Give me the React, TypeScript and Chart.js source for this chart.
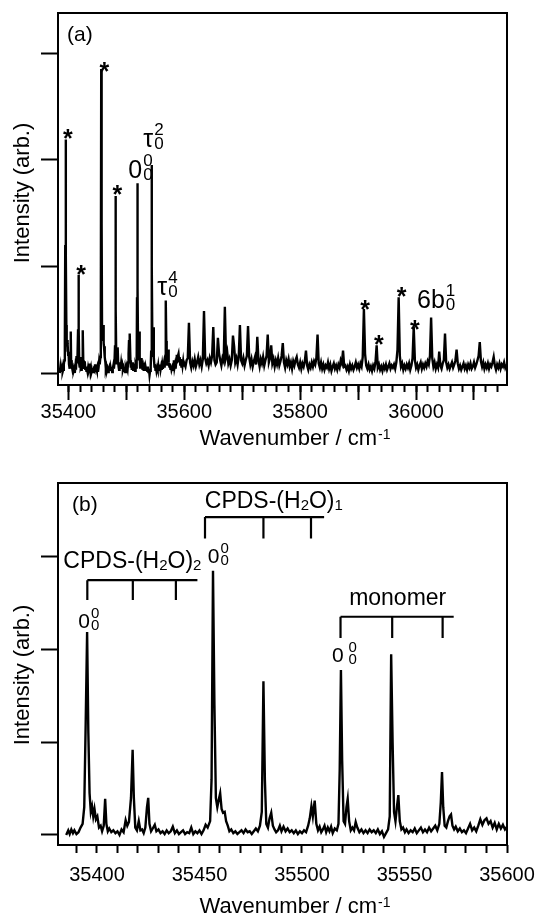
import React, { useEffect, useRef } from "react";
import { Chart, registerables } from "chart.js";

Chart.register(...registerables);

const FONT = "'Liberation Sans', Arial, Helvetica, sans-serif";

// ---------- DATA ----------
// High-resolution part of the spectrum (wavenumber cm-1, intensity arb.)
const fineSpectrum: [number, number][] = [
  [35385, 0.0], [35386, 0.05], [35386.7, 0.01], [35387.5, 0.06], [35388.3, 0.02], [35389, 0.05],
  [35390, 0.01], [35391, 0.03], [35392, 0.08], [35393, 0.12], [35393.8, 0.3], [35394.5, 1.2],
  [35395.2, 2.19], [35395.8, 1.1], [35396.4, 0.45], [35397, 0.25], [35397.6, 0.31], [35398.2, 0.2],
  [35398.8, 0.28], [35399.5, 0.17], [35400.2, 0.2], [35401, 0.08], [35401.8, 0.1], [35402.5, 0.04],
  [35403.3, 0.1], [35404, 0.39], [35404.6, 0.12], [35405.3, 0.04], [35406, 0.07], [35407, 0.03],
  [35408, 0.05], [35409, 0.02], [35410, 0.04], [35411, 0.0], [35412, 0.06], [35413, 0.03],
  [35414, 0.16], [35414.8, 0.1], [35415.6, 0.14], [35416.6, 0.4], [35417.4, 0.92], [35418, 0.4],
  [35418.7, 0.08], [35419.5, 0.05], [35420.4, 0.15], [35421.2, 0.05], [35422, 0.06], [35422.8, 0.02],
  [35423.6, 0.08], [35424.4, 0.3], [35425, 0.4], [35425.6, 0.12], [35426.4, 0.04], [35427.2, 0.07],
  [35428.2, 0.11], [35429, 0.04], [35430, 0.06], [35431, 0.02], [35432, 0.04], [35433, 0.01],
  [35434, 0.05], [35435, 0.02], [35436, 0.04], [35437, 0.09], [35438, 0.02], [35439, 0.05],
  [35440, 0.01], [35441, 0.03], [35442, 0.05], [35443, 0.01], [35444, 0.03], [35445, 0.02],
  [35446, 0.08], [35447, 0.01], [35448, 0.04], [35449, 0.02], [35450, 0.05], [35451, 0.01],
  [35452, 0.05], [35453, 0.11], [35454, 0.08], [35455.2, 0.15], [35455.9, 0.6], [35456.6, 2.85],
  [35457.3, 1.4], [35458, 0.4], [35458.7, 0.3], [35459.4, 0.38], [35460.1, 0.45], [35460.8, 0.28],
  [35461.5, 0.24], [35462.3, 0.25], [35463, 0.15], [35463.8, 0.1], [35464.6, 0.04], [35465.5, 0.06],
  [35466.5, 0.02], [35467.5, 0.04], [35468.5, 0.01], [35469.5, 0.03], [35470.5, 0.05], [35471.5, 0.02],
  [35472.5, 0.06], [35473.5, 0.03], [35474.5, 0.04], [35475.5, 0.01], [35476.5, 0.04], [35477.5, 0.07],
  [35478.5, 0.04], [35479.5, 0.1], [35480.4, 0.25], [35481.2, 1.66], [35481.9, 0.6], [35482.6, 0.12],
  [35483.4, 0.08], [35484.2, 0.18], [35485, 0.24], [35485.8, 0.1], [35486.6, 0.06], [35487.4, 0.03],
  [35488.3, 0.05], [35489.2, 0.1], [35490, 0.04], [35491, 0.09], [35492, 0.04], [35493, 0.07],
  [35494, 0.03], [35495, 0.05], [35496, 0.02], [35497, 0.05], [35498, 0.01], [35499, 0.04],
  [35500, 0.02], [35501, 0.05], [35502, 0.03], [35503, 0.1], [35503.8, 0.18], [35504.6, 0.31],
  [35505.3, 0.2], [35506.2, 0.37], [35507, 0.12], [35507.8, 0.05], [35508.6, 0.09], [35509.4, 0.03],
  [35510.2, 0.06], [35511, 0.1], [35511.8, 0.03], [35512.6, 0.08], [35513.4, 0.04], [35514.2, 0.09],
  [35515, 0.02], [35516, 0.07], [35517, 0.05], [35517.8, 0.12], [35518.4, 0.7], [35519, 1.78],
  [35519.6, 0.8], [35520.3, 0.15], [35521, 0.12], [35521.7, 0.3], [35522.3, 0.39], [35523, 0.15],
  [35523.8, 0.05], [35524.6, 0.08], [35525.4, 0.05], [35526.2, 0.14], [35527, 0.08], [35528, 0.03],
  [35529, 0.06], [35530, 0.02], [35531, 0.05], [35532, 0.02], [35533, 0.06], [35534, 0.03],
  [35535, 0.05], [35536, 0.02], [35537, 0.06], [35538, 0.01], [35539, 0.04], [35540, -0.02],
  [35541, 0.02], [35542, 0.06], [35542.8, 0.2], [35543.5, 1.95], [35544.2, 1.0], [35544.9, 0.25],
  [35545.6, 0.15], [35546.4, 0.32], [35547, 0.43], [35547.7, 0.15], [35548.5, 0.06], [35549.3, 0.08],
  [35550.2, 0.03], [35551, 0.06], [35552, 0.02], [35553, 0.05], [35554, 0.03], [35555, 0.07],
  [35556, 0.02], [35557, 0.05], [35558, 0.08], [35559, 0.03], [35560, 0.06], [35561, 0.03],
  [35562, 0.08], [35563, 0.04], [35564, 0.07], [35565, 0.1], [35566, 0.05], [35567, 0.12],
  [35567.7, 0.35], [35568.3, 0.68], [35568.9, 0.3], [35569.6, 0.1], [35570.4, 0.08], [35571.2, 0.15],
  [35572, 0.2], [35572.7, 0.22], [35573.4, 0.1], [35574.2, 0.06], [35575, 0.09], [35576, 0.04],
  [35577, 0.07], [35578, 0.03], [35579, 0.05], [35580, 0.02], [35581, 0.07], [35582, 0.12],
  [35583, 0.05], [35584, 0.08], [35585, 0.04], [35586, 0.1], [35587, 0.17], [35588, 0.11],
  [35589, 0.16], [35590, 0.18], [35591, 0.12], [35592, 0.15], [35593, 0.08], [35594, 0.13],
  [35595, 0.06], [35596, 0.12], [35597, 0.07], [35598, 0.11], [35599, 0.06], [35600, 0.09],
];

// Survey part of the spectrum, sampled every 2 cm-1 from 35602 cm-1
const surveyStart = 35602;
const surveyStep = 2;
const surveyIntensity: number[] = [
  0.06, 0.12, 0.14, 0.47, 0.1, 0.05, 0.11, 0.07, 0.13, 0.06,
  0.1, 0.15, 0.08, 0.12, 0.06, 0.13, 0.58, 0.14, 0.09, 0.12,
  0.07, 0.14, 0.1, 0.16, 0.43, 0.12, 0.08, 0.1, 0.33, 0.18,
  0.12, 0.07, 0.14, 0.11, 0.62, 0.15, 0.2, 0.09, 0.13, 0.07,
  0.12, 0.35, 0.25, 0.1, 0.14, 0.08, 0.16, 0.45, 0.12, 0.09,
  0.14, 0.07, 0.12, 0.16, 0.44, 0.15, 0.08, 0.13, 0.06, 0.11,
  0.15, 0.08, 0.34, 0.12, 0.06, 0.13, 0.09, 0.15, 0.07, 0.12,
  0.16, 0.36, 0.1, 0.14, 0.26, 0.09, 0.13, 0.06, 0.12, 0.08,
  0.14, 0.07, 0.11, 0.16, 0.28, 0.1, 0.05, 0.12, 0.08, 0.13,
  0.06, 0.1, 0.04, 0.11, 0.07, 0.12, 0.15, 0.08, 0.05, 0.1,
  0.04, 0.09, 0.06, 0.11, 0.21, 0.07, 0.03, 0.08, 0.05, 0.1,
  0.06, 0.11, 0.08, 0.14, 0.36, 0.09, 0.05, 0.1, 0.04, 0.08,
  0.03, 0.07, 0.05, 0.1, 0.04, 0.08, 0.02, 0.06, 0.09, 0.04,
  0.07, 0.03, 0.08, 0.05, 0.12, 0.09, 0.21, 0.06, 0.07, 0.03,
  0.06, 0.02, 0.08, 0.04, 0.07, 0.03, 0.06, 0.1, 0.05, 0.08,
  0.04, 0.09, 0.06, 0.15, 0.6, 0.18, 0.07, 0.04, 0.08, 0.03,
  0.06, 0.02, 0.07, 0.04, 0.1, 0.26, 0.05, 0.08, 0.03, 0.06,
  0.02, 0.07, 0.04, 0.08, 0.03, 0.06, 0.09, 0.04, 0.07, 0.05,
  0.08, 0.04, 0.1, 0.22, 0.71, 0.16, 0.06, 0.09, 0.03, 0.07,
  0.04, 0.08, 0.05, 0.09, 0.03, 0.07, 0.14, 0.43, 0.12, 0.05,
  0.08, 0.03, 0.07, 0.1, 0.04, 0.08, 0.05, 0.09, 0.06, 0.11,
  0.08, 0.16, 0.52, 0.14, 0.06, 0.1, 0.04, 0.08, 0.05, 0.2,
  0.07, 0.04, 0.09, 0.12, 0.37, 0.1, 0.05, 0.08, 0.04, 0.07,
  0.1, 0.05, 0.08, 0.12, 0.22, 0.09, 0.04, 0.07, 0.03, 0.06,
  0.09, 0.04, 0.07, 0.03, 0.08, 0.05, 0.09, 0.04, 0.06, 0.1,
  0.05, 0.08, 0.12, 0.16, 0.29, 0.11, 0.06, 0.1, 0.04, 0.08,
  0.05, 0.09, 0.04, 0.08, 0.06, 0.1, 0.15, 0.07, 0.03, 0.08,
  0.05, 0.09, 0.04, 0.08, 0.06, 0.1, 0.05, 0.08,
];

// Axis tick definitions
const yTickValues = [0, 1, 2, 3];
const xLabelStepA = 200;
const xMajorStepA = 100;
const xMinorStepA = 20;
const xLabelStepB = 50;
const xStepB = 10;

// Panel (a) annotations (data coordinates)
const starWnA = [35399, 35422, 35462, 35484.5, 35912, 35936, 35975, 35998];
const starIntA = [2.25, 0.98, 2.88, 1.73, 0.65, 0.325, 0.77, 0.46];

type Script = { main: string; sub: string; sup: string; wn: number; v: number; gap: number };
const bandLabelsA: Script[] = [
  { main: "0", sub: "0", sup: "0", wn: 35503.4, v: 1.83, gap: 1 },
  { main: "τ", sub: "0", sup: "2", wn: 35529.3, v: 2.12, gap: 1 },
  { main: "τ", sub: "0", sup: "4", wn: 35553.4, v: 0.73, gap: 1 },
  { main: "6b", sub: "0", sup: "1", wn: 36001.7, v: 0.61, gap: 1 },
];

// Panel (b) annotations (data coordinates)
const bandLabelsB: Script[] = [
  { main: "0", sub: "0", sup: "0", wn: 35390.9, v: 2.23, gap: 1 },
  { main: "0", sub: "0", sup: "0", wn: 35454.1, v: 2.93, gap: 1 },
  { main: "0", sub: "0", sup: "0", wn: 35514.6, v: 1.87, gap: 5 },
];

type Seg = { t: string; small: boolean };
type Group = { segs: Seg[]; wn: number; v: number };
const groupNamesB: Group[] = [
  { segs: [{ t: "CPDS-(H", small: false }, { t: "2", small: true }, { t: "O)", small: false }, { t: "2", small: true }], wn: 35383.6, v: 2.88 },
  { segs: [{ t: "CPDS-(H", small: false }, { t: "2", small: true }, { t: "O)", small: false }, { t: "1", small: true }], wn: 35452.6, v: 3.53 },
  { segs: [{ t: "monomer", small: false }], wn: 35523, v: 2.48 },
];

type Bracket = { from: number; to: number; v: number; drop: number; ticks: number[] };
const bracketsB: Bracket[] = [
  { from: 35395.3, to: 35449, v: 2.75, drop: 2.535, ticks: [35395.3, 35417.5, 35438.5] },
  { from: 35452.7, to: 35510.8, v: 3.43, drop: 3.2, ticks: [35452.7, 35481.2, 35504.4] },
  { from: 35518.8, to: 35574, v: 2.355, drop: 2.125, ticks: [35518.8, 35544, 35568.6] },
];

const X_TITLE = "Wavenumber / cm";
const X_TITLE_SUP = "-1";
const Y_TITLE = "Intensity (arb.)";

// ---------- helpers ----------
function buildPoints() {
  const pts: { x: number; y: number }[] = fineSpectrum.map(([x, y]) => ({ x, y }));
  surveyIntensity.forEach((y, i) => pts.push({ x: surveyStart + i * surveyStep, y }));
  return pts;
}

type Panel = {
  height: number;
  xMin: number; xMax: number; yMin: number; yMax: number;
  majorStep: number; labelStep: number; minorStep: number | null;
  majorLen: number; minorLen: number;
  padTop: number; padRight: number; axisH: number; tickPad: number;
  tag: string; tagDx: number; tagDy: number;
  xTitleBase: number; xTitleShift: number; yTitleShift: number;
  stars: boolean;
  labels: Script[]; labelMain: number; labelSmall: number; supDy: number; subDy: number;
  groups: Group[]; brackets: Bracket[];
};

const panelA: Panel = {
  height: 460, xMin: 35382, xMax: 36157, yMin: -0.1125, yMax: 3.375,
  majorStep: xMajorStepA, labelStep: xLabelStepA, minorStep: xMinorStepA,
  majorLen: 15, minorLen: 7, padTop: 13, padRight: 29, axisH: 75, tickPad: 0,
  tag: "(a)", tagDx: 9, tagDy: 28, xTitleBase: 445, xTitleShift: 12, yTitleShift: -6,
  stars: true, labels: bandLabelsA, labelMain: 25, labelSmall: 17, supDy: 12, subDy: 2,
  groups: [], brackets: [],
};

const panelB: Panel = {
  height: 455, xMin: 35381, xMax: 35600, yMin: -0.108, yMax: 3.798,
  majorStep: xStepB, labelStep: xLabelStepB, minorStep: null,
  majorLen: 8, minorLen: 8, padTop: 23, padRight: 29, axisH: 70, tickPad: 10,
  tag: "(b)", tagDx: 14, tagDy: 28, xTitleBase: 453, xTitleShift: 12, yTitleShift: 11,
  stars: false, labels: bandLabelsB, labelMain: 21, labelSmall: 15, supDy: 10, subDy: 2,
  groups: groupNamesB, brackets: bracketsB,
};

function makeDecor(p: Panel) {
  return {
    id: "decor",
    afterDatasetsDraw(chart: any) {
      const ctx: CanvasRenderingContext2D = chart.ctx;
      const ca = chart.chartArea;
      const xs = chart.scales.x;
      const ys = chart.scales.y;
      ctx.save();
      ctx.strokeStyle = "#000";
      ctx.fillStyle = "#000";
      ctx.lineWidth = 2;
      ctx.strokeRect(ca.left, ca.top, ca.right - ca.left, ca.bottom - ca.top);

      ctx.textAlign = "left";
      ctx.textBaseline = "alphabetic";
      ctx.font = `21px ${FONT}`;
      ctx.fillText(p.tag, ca.left + p.tagDx, ca.top + p.tagDy);

      if (p.stars) {
        ctx.font = `bold 25px ${FONT}`;
        ctx.textAlign = "center";
        starWnA.forEach((wn, i) => {
          const x = xs.getPixelForValue(wn);
          const y = ys.getPixelForValue(starIntA[i]);
          ctx.fillText("*", x, y + 25 * 0.57);
        });
        ctx.textAlign = "left";
      }

      p.labels.forEach((s) => {
        const x = xs.getPixelForValue(s.wn);
        const y = ys.getPixelForValue(s.v);
        ctx.font = `${p.labelMain}px ${FONT}`;
        ctx.fillText(s.main, x, y);
        const w = ctx.measureText(s.main).width;
        ctx.font = `${p.labelSmall}px ${FONT}`;
        ctx.fillText(s.sup, x + w + s.gap, y - p.supDy);
        ctx.fillText(s.sub, x + w + s.gap, y + p.subDy);
      });

      p.groups.forEach((g) => {
        let x = xs.getPixelForValue(g.wn);
        const y = ys.getPixelForValue(g.v);
        g.segs.forEach((sg) => {
          ctx.font = sg.small ? `15px ${FONT}` : `23px ${FONT}`;
          ctx.fillText(sg.t, x, sg.small ? y + 2 : y);
          x += ctx.measureText(sg.t).width;
        });
      });

      ctx.lineWidth = 2.2;
      p.brackets.forEach((b) => {
        const yTop = ys.getPixelForValue(b.v);
        const yBot = ys.getPixelForValue(b.drop);
        ctx.beginPath();
        ctx.moveTo(xs.getPixelForValue(b.from), yTop);
        ctx.lineTo(xs.getPixelForValue(b.to), yTop);
        b.ticks.forEach((t) => {
          const tx = xs.getPixelForValue(t);
          ctx.moveTo(tx, yTop);
          ctx.lineTo(tx, yBot);
        });
        ctx.stroke();
      });

      // x-axis title with superscript
      ctx.font = `22px ${FONT}`;
      const w1 = ctx.measureText(X_TITLE).width;
      ctx.font = `14px ${FONT}`;
      const w2 = ctx.measureText(X_TITLE_SUP).width;
      const left = (ca.left + ca.right) / 2 + p.xTitleShift - (w1 + w2) / 2;
      ctx.font = `22px ${FONT}`;
      ctx.fillText(X_TITLE, left, p.xTitleBase);
      ctx.font = `14px ${FONT}`;
      ctx.fillText(X_TITLE_SUP, left + w1 + 1, p.xTitleBase - 6);

      // y-axis title
      ctx.translate(22.5, (ca.top + ca.bottom) / 2 + p.yTitleShift);
      ctx.rotate(-Math.PI / 2);
      ctx.textAlign = "center";
      ctx.textBaseline = "middle";
      ctx.font = `22px ${FONT}`;
      ctx.fillText(Y_TITLE, 0, 0);
      ctx.restore();
    },
  };
}

function buildConfig(p: Panel): any {
  const scales: any = {
    x: {
      type: "linear", position: "bottom", min: p.xMin, max: p.xMax, weight: 1,
      grid: { display: true, drawOnChartArea: false, drawTicks: true, tickLength: p.majorLen, tickWidth: 2, tickColor: "#000" },
      border: { display: false },
      ticks: {
        stepSize: p.majorStep, includeBounds: false, autoSkip: false, maxRotation: 0, minRotation: 0,
        padding: p.tickPad, color: "#000", font: { family: FONT, size: 20 },
        callback: (v: number) => (Math.round(v) % p.labelStep === 0 ? String(Math.round(v)) : ""),
      },
      afterFit: (s: any) => { s.height = p.axisH; s.paddingLeft = 0; s.paddingRight = 0; },
    },
    y: {
      type: "linear", position: "left", min: p.yMin, max: p.yMax,
      grid: { display: true, drawOnChartArea: false, drawTicks: true, tickLength: 17, tickWidth: 2, tickColor: "#000" },
      border: { display: false },
      afterBuildTicks: (s: any) => { s.ticks = yTickValues.map((value) => ({ value })); },
      ticks: { display: false },
      afterFit: (s: any) => { s.width = 58; s.paddingTop = 0; s.paddingBottom = 0; },
    },
  };
  if (p.minorStep) {
    scales.xm = {
      type: "linear", position: "bottom", min: p.xMin, max: p.xMax, weight: 0,
      grid: { display: true, drawOnChartArea: false, drawTicks: true, tickLength: p.minorLen, tickWidth: 2, tickColor: "#000" },
      border: { display: false },
      ticks: { display: false, stepSize: p.minorStep, includeBounds: false, autoSkip: false },
      afterFit: (s: any) => { s.height = 0; s.paddingLeft = 0; s.paddingRight = 0; },
    };
  }
  return {
    type: "line",
    data: {
      datasets: [{
        data: buildPoints(), borderColor: "#000", borderWidth: 2.4, pointRadius: 0,
        fill: false, tension: 0, xAxisID: "x", yAxisID: "y",
      }],
    },
    options: {
      animation: false, responsive: false, maintainAspectRatio: false,
      layout: { padding: { top: p.padTop, right: p.padRight, left: 0, bottom: 0 } },
      plugins: { legend: { display: false }, tooltip: { enabled: false }, title: { display: false } },
      scales,
    },
    plugins: [makeDecor(p)],
  };
}

function SpectrumPanel({ panel }: { panel: Panel }) {
  const ref = useRef<HTMLCanvasElement | null>(null);
  useEffect(() => {
    if (!ref.current) return;
    const chart = new Chart(ref.current, buildConfig(panel));
    return () => chart.destroy();
  }, [panel]);
  return <canvas ref={ref} width={536} height={panel.height} style={{ display: "block", width: 536, height: panel.height }} />;
}

export default function App() {
  return (
    <div style={{ position: "absolute", left: 0, top: 0, width: 536, height: 915, background: "#fff" }}>
      <SpectrumPanel panel={panelA} />
      <SpectrumPanel panel={panelB} />
    </div>
  );
}
